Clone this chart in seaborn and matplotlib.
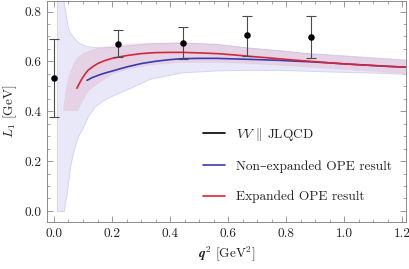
import numpy as np
import pandas as pd
import matplotlib
matplotlib.use("Agg")
import matplotlib.pyplot as plt
from matplotlib.lines import Line2D
from matplotlib.ticker import MultipleLocator
import seaborn as sns

# ---------------- data ----------------
# lattice points (VV || JLQCD)
data_q2 = [0.0, 0.22, 0.445, 0.665, 0.886]
data_L1 = [0.532, 0.668, 0.672, 0.704, 0.696]
data_err_hi = [0.688, 0.724, 0.736, 0.780, 0.780]
data_err_lo = [0.376, 0.616, 0.608, 0.620, 0.612]

# non-expanded OPE result (central)
blue_q2 = [0.114, 0.13, 0.152, 0.175, 0.2, 0.23, 0.255, 0.3, 0.348, 0.4, 0.445,
           0.5, 0.562, 0.62, 0.676, 0.73, 0.78, 0.83, 0.886, 0.95, 1.0, 1.06, 1.12, 1.17, 1.224]
blue_L1 = [0.524, 0.534, 0.544, 0.553, 0.561, 0.571, 0.579, 0.591, 0.600, 0.607, 0.611,
           0.612, 0.612, 0.610, 0.608, 0.606, 0.604, 0.601, 0.598, 0.594, 0.590, 0.586, 0.582, 0.579, 0.576]

# expanded OPE result (central)
red_q2 = [0.079, 0.088, 0.097, 0.107, 0.117, 0.135, 0.152, 0.175, 0.2, 0.23, 0.255,
          0.3, 0.348, 0.4, 0.445, 0.5, 0.562, 0.62, 0.676, 0.73, 0.78, 0.83, 0.886,
          0.95, 1.0, 1.06, 1.12, 1.17, 1.224]
red_L1 = [0.492, 0.513, 0.532, 0.549, 0.564, 0.580, 0.592, 0.603, 0.612, 0.619, 0.624,
          0.631, 0.635, 0.636, 0.636, 0.634, 0.631, 0.626, 0.620, 0.615, 0.610, 0.605, 0.600,
          0.594, 0.590, 0.586, 0.582, 0.579, 0.576]

# uncertainty band of non-expanded result
blue_band_q2 = [0.01, 0.031, 0.034, 0.038, 0.045, 0.048, 0.055, 0.062, 0.072, 0.083, 0.097,
                0.117, 0.141, 0.17, 0.2, 0.255, 0.33, 0.44, 0.56, 0.665, 0.78, 0.886, 1.0, 1.1, 1.224]
blue_band_hi = [0.86, 0.86, 0.83, 0.804, 0.755, 0.736, 0.715, 0.704, 0.69, 0.676, 0.668,
                0.66, 0.657, 0.656, 0.658, 0.664, 0.672, 0.676, 0.67, 0.656, 0.644, 0.632, 0.624, 0.616, 0.606]
blue_band_lo = [0.0, 0.0, 0.0, 0.03, 0.084, 0.11, 0.176, 0.215, 0.262, 0.30, 0.33,
                0.38, 0.42, 0.445, 0.462, 0.49, 0.53, 0.556, 0.564, 0.566, 0.566, 0.562, 0.558, 0.555, 0.55]

# uncertainty band of expanded result
red_band_q2 = [0.031, 0.038, 0.048, 0.066, 0.079, 0.097, 0.117, 0.152, 0.2, 0.255, 0.33,
               0.44, 0.56, 0.665, 0.78, 0.886, 1.0, 1.1, 1.224]
red_band_hi = [0.404, 0.472, 0.536, 0.592, 0.615, 0.632, 0.643, 0.656, 0.664, 0.672, 0.675,
               0.676, 0.67, 0.656, 0.644, 0.632, 0.622, 0.614, 0.604]
red_band_lo = [0.404, 0.404, 0.404, 0.404, 0.404, 0.444, 0.484, 0.516, 0.552, 0.572, 0.588,
               0.598, 0.598, 0.594, 0.586, 0.578, 0.57, 0.562, 0.552]

x_ticks = [0.0, 0.2, 0.4, 0.6, 0.8, 1.0, 1.2]
y_ticks = [0.0, 0.2, 0.4, 0.6, 0.8]
legend_labels = [r"$VV$ $\|$ JLQCD", "Non\u2013expanded OPE result", "Expanded OPE result"]

# ---------------- style ----------------
sns.set_theme(style="ticks")
plt.rcParams["font.family"] = ["cmr10", "DejaVu Serif"]
plt.rcParams["mathtext.fontset"] = "cm"
plt.rcParams["axes.formatter.use_mathtext"] = True
plt.rcParams["axes.unicode_minus"] = False

BLUE = "#3a3ab4"
RED = "#d3263a"
FS = 9.6

fig = plt.figure(figsize=(4.09, 2.69), dpi=100)
ax = fig.add_axes([0.115, 0.175, 0.878, 0.823])

# bands
ax.fill_between(blue_band_q2, blue_band_lo, blue_band_hi, facecolor="#e8e8f8",
                edgecolor="#d4d4f3", linewidth=0.7, zorder=1)
ax.fill_between(red_band_q2, red_band_lo, red_band_hi, facecolor=(0.85, 0.35, 0.45, 0.14),
                edgecolor=(0.85, 0.35, 0.45, 0.08), linewidth=0.6, zorder=2)

# central curves
df_blue = pd.DataFrame({"q2": blue_q2, "L1": blue_L1})
df_red = pd.DataFrame({"q2": red_q2, "L1": red_L1})
sns.lineplot(data=df_blue, x="q2", y="L1", color=BLUE, lw=1.2, ax=ax, zorder=3)
sns.lineplot(data=df_red, x="q2", y="L1", color=RED, lw=1.2, ax=ax, zorder=4)

# data points with error bars
lo = np.array(data_L1) - np.array(data_err_lo)
hi = np.array(data_err_hi) - np.array(data_L1)
ax.errorbar(data_q2, data_L1, yerr=[lo, hi], fmt="none", ecolor="#4a4a4a",
            elinewidth=0.8, capsize=3.5, capthick=0.8, zorder=5)
df_pts = pd.DataFrame({"q2": data_q2, "L1": data_L1})
sns.scatterplot(data=df_pts, x="q2", y="L1", color="black", s=22, edgecolor="black",
                linewidth=0, ax=ax, zorder=6)

# axes
ax.set_xlim(-0.024, 1.214)
ax.set_ylim(-0.044, 0.844)
ax.set_xticks(x_ticks)
ax.set_yticks(y_ticks)
ax.set_xticklabels([f"{v:.1f}" for v in x_ticks])
ax.set_yticklabels([f"{v:.1f}" for v in y_ticks])
ax.xaxis.set_minor_locator(MultipleLocator(0.05))
ax.yaxis.set_minor_locator(MultipleLocator(0.05))
ax.tick_params(which="both", direction="in", top=True, right=True, color="#888888",
               labelsize=FS, labelcolor="#222222")
ax.tick_params(which="major", length=4, width=0.6, pad=4)
ax.tick_params(which="minor", length=2, width=0.5)
for sp in ax.spines.values():
    sp.set_color("#8a8a8a")
    sp.set_linewidth(0.7)

ax.set_xlabel(r"$\boldsymbol{q}^2$ [GeV$^2$]", fontsize=FS, color="#222222", labelpad=3)
ax.set_ylabel(r"$L_1$ [GeV]", fontsize=FS, color="#222222", labelpad=4)

handles = [Line2D([], [], color="black", lw=1.2),
           Line2D([], [], color=BLUE, lw=1.2),
           Line2D([], [], color=RED, lw=1.2)]
ax.legend(handles, legend_labels, loc="upper left", bbox_to_anchor=(0.435, 0.435),
          frameon=False, fontsize=FS, handlelength=1.65, handletextpad=0.82,
          labelspacing=1.33, borderpad=0, borderaxespad=0)

fig.savefig("out.png", dpi=100)
